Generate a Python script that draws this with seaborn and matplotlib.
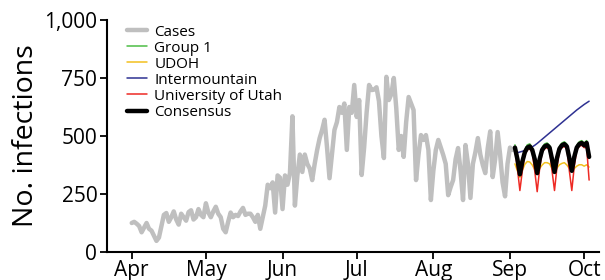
import numpy as np
import pandas as pd
import matplotlib
matplotlib.use("Agg")
import matplotlib.pyplot as plt
import matplotlib.dates as mdates
import seaborn as sns

# ---- data ----
case_start = "2020-04-01"
cases = [125, 130, 122, 112, 85, 105, 125, 100, 92, 70,
         48, 62, 110, 160, 168, 130, 150, 175, 140, 118,
         165, 150, 135, 172, 180, 140, 150, 185, 160, 150,
         210, 170, 150, 175, 195, 165, 150, 100, 85, 130,
         170, 150, 160, 155, 175, 190, 160, 165, 165, 150,
         130, 160, 100, 150, 200, 290, 275, 300, 170, 330,
         320, 185, 330, 290, 340, 585, 200, 330, 420, 345,
         420, 380, 360, 310, 380, 440, 490, 526, 570, 450,
         318, 420, 526, 560, 625, 600, 640, 440, 625, 600,
         720, 582, 655, 332, 450, 600, 720, 698, 700, 710,
         650, 500, 405, 755, 655, 680, 750, 620, 440, 500,
         410, 560, 668, 640, 612, 310, 420, 504, 483, 504,
         440, 224, 350, 440, 483, 450, 418, 380, 245, 280,
         310, 400, 448, 350, 224, 461, 380, 233, 380, 430,
         491, 420, 375, 340, 448, 520, 323, 400, 517, 420,
         300, 240, 380, 450, 440]

fc_start = "2020-09-03"
group1 = [462, 405, 338, 395, 440, 462, 466, 450, 405, 342,
          405, 450, 466, 470, 460, 405, 348, 410, 455, 470,
          475, 465, 410, 352, 415, 460, 475, 480, 470, 480, 415]
udoh = [380, 350, 322, 352, 378, 390, 388, 375, 355, 342,
        360, 375, 385, 385, 380, 360, 346, 362, 376, 382,
        385, 375, 360, 350, 360, 370, 376, 376, 370, 376, 366]
intermountain = [425, 428, 431, 434, 438, 442, 447, 453, 460, 468,
                 477, 486, 495, 504, 513, 522, 531, 540, 549, 558,
                 567, 576, 585, 594, 603, 612, 620, 628, 636, 643, 650]
utah = [440, 360, 265, 350, 420, 440, 445, 430, 350, 260,
        360, 430, 445, 450, 440, 350, 265, 365, 435, 450,
        455, 445, 350, 265, 370, 440, 455, 460, 450, 450, 310]
consensus = [450, 400, 335, 390, 430, 450, 455, 440, 400, 340,
             400, 440, 455, 460, 450, 400, 345, 405, 445, 460,
             465, 455, 405, 350, 410, 450, 465, 470, 460, 470, 410]

yticks = [0, 250, 500, 750, 1000]
ytick_labels = ["0", "250", "500", "750", "1,000"]

# ---- frames ----
df_cases = pd.DataFrame({"date": pd.date_range(case_start, periods=len(cases), freq="D"),
                         "value": cases})
fc_dates = pd.date_range(fc_start, periods=len(consensus), freq="D")
fc_series = {
    "Group 1": group1,
    "UDOH": udoh,
    "Intermountain": intermountain,
    "University of Utah": utah,
    "Consensus": consensus,
}
colors = {
    "Cases": "#BFBFBF",
    "Group 1": "#4DBD45",
    "UDOH": "#F2C01E",
    "Intermountain": "#2E3192",
    "University of Utah": "#EE2A24",
    "Consensus": "#000000",
}
widths = {"Cases": 3.2, "Group 1": 1.1, "UDOH": 1.1, "Intermountain": 1.1,
          "University of Utah": 1.1, "Consensus": 3.2}

sns.set_theme(style="ticks")
plt.rcParams["font.family"] = ["Open Sans", "DejaVu Sans"]

fig = plt.figure(figsize=(6.05, 2.80), dpi=100)
ax = fig.add_axes([107 / 605, 1 - 252 / 280, (599 - 107) / 605, (252 - 20) / 280])

sns.lineplot(data=df_cases, x="date", y="value", ax=ax, color=colors["Cases"],
             linewidth=widths["Cases"], label="Cases")
for name, vals in fc_series.items():
    d = pd.DataFrame({"date": fc_dates, "value": vals})
    sns.lineplot(data=d, x="date", y="value", ax=ax, color=colors[name],
                 linewidth=widths[name], label=name)

ax.set_xlim(pd.Timestamp("2020-03-22"), pd.Timestamp("2020-10-07"))
ax.set_ylim(0, 1000)
ax.set_yticks(yticks)
ax.set_yticklabels(ytick_labels)
ax.xaxis.set_major_locator(mdates.MonthLocator())
ax.xaxis.set_major_formatter(mdates.DateFormatter("%b"))
ax.set_xlabel("")
ax.set_ylabel("No. infections", fontsize=20.5, labelpad=3, color="black")
ax.tick_params(axis="both", labelsize=15, length=5, width=1.3, color="black",
               labelcolor="black", pad=2)
ax.tick_params(axis="x", pad=1)
for s in ["top", "right"]:
    ax.spines[s].set_visible(False)
for s in ["left", "bottom"]:
    ax.spines[s].set_color("black")
    ax.spines[s].set_linewidth(1.5)

leg = ax.legend(loc="upper left", bbox_to_anchor=(0.022, 1.02), frameon=False,
                fontsize=11, labelspacing=0.07, handlelength=1.3,
                handletextpad=0.5, borderaxespad=0.2)
for t in leg.get_texts():
    t.set_color("black")

fig.savefig("out.png", dpi=100)
